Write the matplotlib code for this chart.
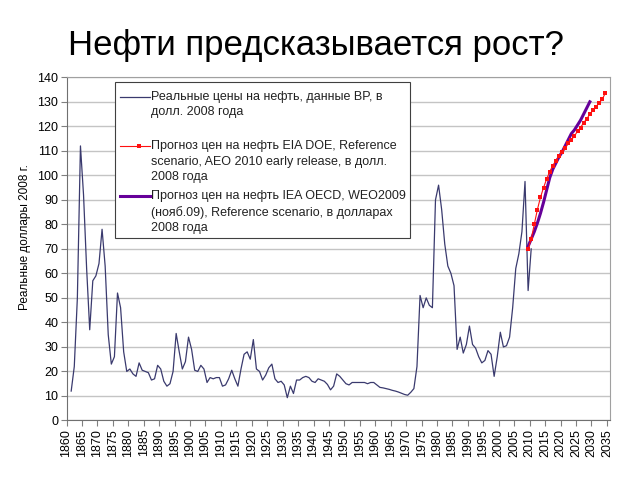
import numpy as np
import matplotlib
matplotlib.use("Agg")
import matplotlib.pyplot as plt
from matplotlib.lines import Line2D
from matplotlib.patches import Rectangle

plt.rcParams['font.family'] = ['Liberation Sans', 'DejaVu Sans']

# Real oil prices (BP), 2008 dollars, 1861-2010
hist_years = list(range(1861, 2011))
hist_prices = [
    12, 22, 50, 112, 92, 62, 37, 57, 59, 64,            # 1861-1870
    78, 63, 35, 23, 26, 52, 46, 28, 20, 21,              # 1871-1880
    19, 18, 23.5, 20.5, 20, 19.5, 16.5, 17, 22.5, 21,    # 1881-1890
    16, 14, 15, 20, 35.5, 28, 21, 24, 34, 29,            # 1891-1900
    20.5, 20, 22.5, 21, 15.5, 17.5, 17, 17.5, 17.5, 14,  # 1901-1910
    14.5, 17, 20.5, 17, 14, 21, 27, 28, 25, 33,          # 1911-1920
    21, 20, 16.5, 18.5, 21.5, 23, 17, 15.5, 16, 14.5,    # 1921-1930
    9.3, 14, 11, 16.5, 16.5, 17.5, 18, 17.5, 16, 15.5,   # 1931-1940
    17, 16.5, 16, 14.7, 12.5, 14, 19, 18, 16.5, 15,      # 1941-1950
    14.5, 15.5, 15.5, 15.5, 15.5, 15.5, 15, 15.5, 15.5, 14.5,  # 1951-1960
    13.5, 13.3, 13, 12.7, 12.3, 12, 11.6, 11.1, 10.6, 10.3,    # 1961-1970
    11.5, 13, 22, 51, 46, 50, 47, 46, 90, 96,            # 1971-1980
    86, 72, 63, 60, 55, 29, 34, 27.5, 31, 38.5,          # 1981-1990
    31, 29.5, 26, 23.5, 24.5, 28.5, 27, 18, 26, 36,      # 1991-2000
    30, 30.5, 34, 46, 62, 68, 77, 97.5, 53, 70,          # 2001-2010
]

# EIA DOE AEO 2010 forecast
eia_years = list(range(2009, 2035))
eia_prices = [70, 74, 80, 86, 91, 95, 98.5, 101.5, 104, 106,
              108, 109.5, 111, 113, 114.5, 116, 118, 119.5, 121.5, 123,
              125, 126.5, 128, 129.5, 131, 133.5]

# IEA OECD WEO2009 forecast
iea_years = list(range(2009, 2030))
iea_prices = [71, 74, 77, 80.5, 84.5, 89, 94, 99, 102.5, 105,
              107.5, 109.5, 112, 114.5, 117, 118.5, 120.5, 122.5, 125, 127.5, 130]

labels = [
    "Реальные цены на нефть, данные BP, в\nдолл. 2008 года",
    "Прогноз цен на нефть EIA DOE, Reference\nscenario, AEO 2010 early release, в долл.\n2008 года",
    "Прогноз цен на нефть IEA OECD, WEO2009\n(нояб.09), Reference scenario, в долларах\n2008 года",
]

hist_color = '#3a3a6e'
eia_color = '#ff1010'
iea_color = '#660099'

fig = plt.figure(figsize=(6.4, 4.8), dpi=100)
ax = fig.add_axes([0.104, 0.124, 0.849, 0.715])

# points sit in the middle of each yearly category (Excel style)
ax.plot(np.array(hist_years) + 0.5, hist_prices, color=hist_color, lw=0.9)
ax.plot(np.array(iea_years) + 0.5, iea_prices, color=iea_color, lw=2.2)
ax.plot(np.array(eia_years) + 0.5, eia_prices, color=eia_color, lw=0.8,
        marker='s', markersize=2.5, markeredgewidth=0)

ax.set_xlim(1860, 2036)
ax.set_ylim(0, 140)
ax.set_xticks(range(1860, 2036, 5))
ax.set_xticklabels([str(y) for y in range(1860, 2036, 5)], rotation=90, fontsize=9)
ax.set_yticks(range(0, 141, 10))
ax.tick_params(axis='y', labelsize=9, length=4, color='#808080', pad=2)
ax.tick_params(axis='x', length=4, color='#808080', pad=2)
ax.grid(axis='y', color='#c4c4c4', lw=1)
ax.set_axisbelow(True)
for side in ['top', 'right']:
    ax.spines[side].set_color('#a0a0a0')
for side in ['left', 'bottom']:
    ax.spines[side].set_color('#707070')

ax.set_ylabel('Реальные доллары 2008 г.', fontsize=8.5)
ax.yaxis.set_label_coords(-0.066, 0.534)

fig.text(0.493, 0.905, 'Нефти предсказывается рост?', fontsize=25,
         ha='center', va='center')

# legend drawn by hand so the handles sit at the first text line
box = Rectangle((0.089, 0.531), 0.543, 0.455, transform=ax.transAxes,
                facecolor='white', edgecolor='#404040', lw=0.8, zorder=5)
ax.add_patch(box)
entry_y = [0.943, 0.800, 0.655]
handles = [
    dict(color=hist_color, lw=0.9),
    dict(color=eia_color, lw=0.8, marker='s', markersize=2.8, markeredgewidth=0,
         markevery=[1]),
    dict(color=iea_color, lw=2.2),
]
for y, lab, hd in zip(entry_y, labels, handles):
    ln = Line2D([0.099, 0.134, 0.154], [y, y, y], transform=ax.transAxes,
                zorder=6, **hd)
    ax.add_line(ln)
    ax.text(0.156, y + 0.018, lab, transform=ax.transAxes, fontsize=9,
            va='top', ha='left', linespacing=1.42, color='#222222', zorder=6)

fig.savefig('out.png', dpi=100)
